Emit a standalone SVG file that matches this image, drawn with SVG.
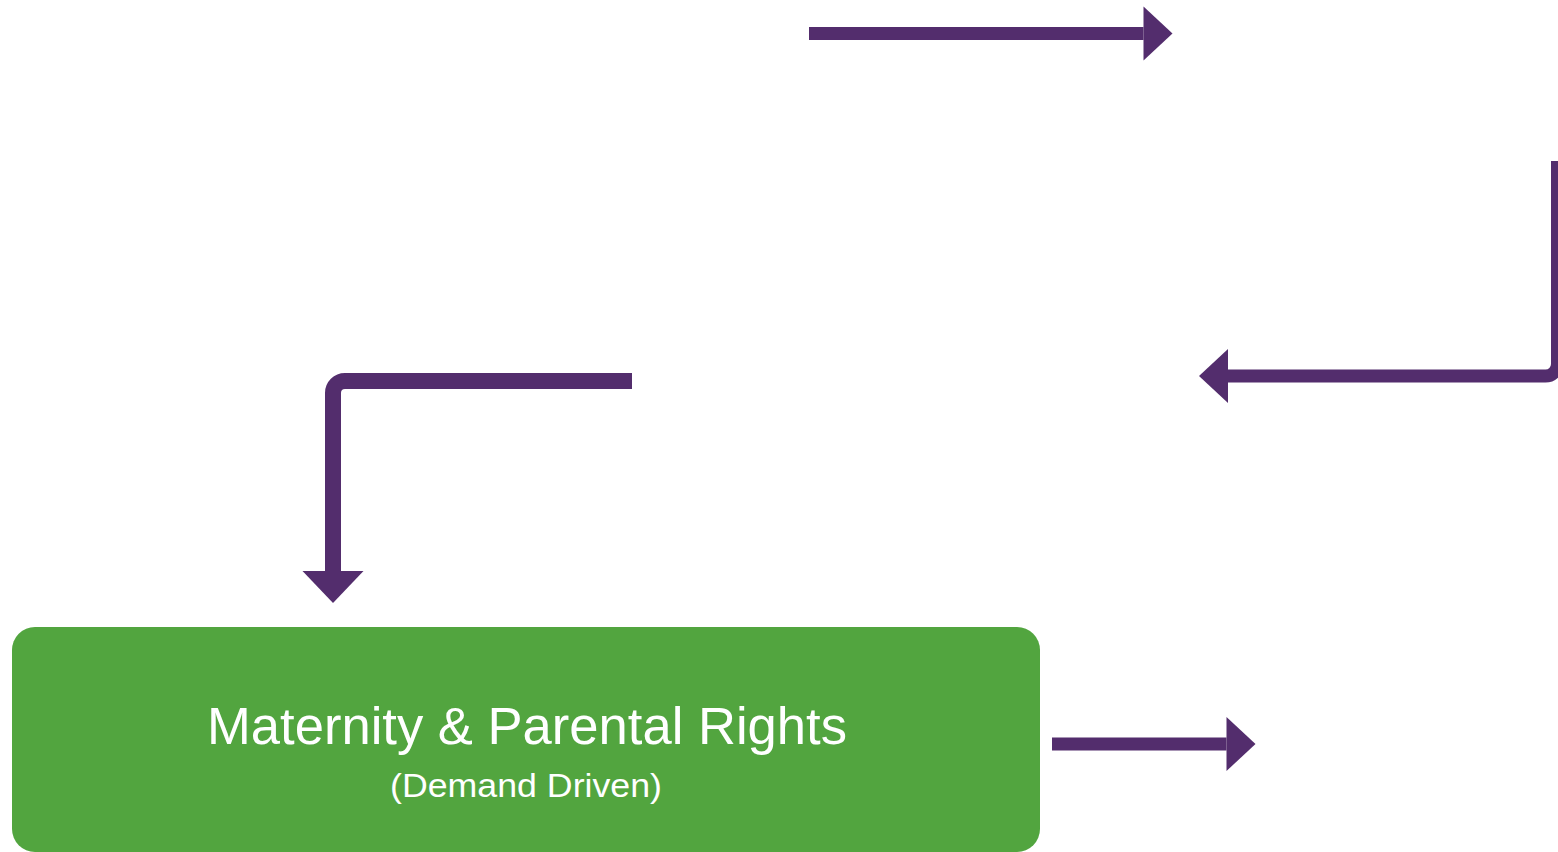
<svg xmlns="http://www.w3.org/2000/svg" width="1558" height="852" viewBox="0 0 1558 852">
  <style>
    .conn { fill: none; stroke: #532D6D; stroke-linecap: butt; stroke-linejoin: miter; }
    .w13 { stroke-width: 13; }
    .w16 { stroke-width: 16; }
    .node-box { fill: #52A53F; }
    .title { font-family: "Liberation Sans", Arial, sans-serif; fill: #FFFFFF; text-anchor: middle; }
  </style>
  <defs>
    <marker id="head13" markerUnits="userSpaceOnUse" markerWidth="29" markerHeight="54" refX="0" refY="27" orient="auto" overflow="visible">
      <path d="M0,0 L29,27 L0,54 Z" fill="#532D6D"/>
    </marker>
    <marker id="head16" markerUnits="userSpaceOnUse" markerWidth="32" markerHeight="61" refX="0" refY="30.5" orient="auto" overflow="visible">
      <path d="M0,0 L32,30.5 L0,61 Z" fill="#532D6D"/>
    </marker>
  </defs>

  <g id="connectors">
    <path id="arrow-top" class="conn w13" d="M809,33.5 H1143.5" marker-end="url(#head13)"/>
    <path id="arrow-right-loop" class="conn w13" d="M1557.5,161 V364 A12,12 0 0 1 1545.5,376 H1228" marker-end="url(#head13)"/>
    <path id="arrow-down" class="conn w16" d="M632,381 H345 A12,12 0 0 0 333,393 V571" marker-end="url(#head16)"/>
    <path id="arrow-bottom" class="conn w13" d="M1052,744 H1226.5" marker-end="url(#head13)"/>
  </g>

  <g id="node-maternity">
    <rect class="node-box" x="12" y="627" width="1028" height="225" rx="23" ry="23"/>
    <text class="title" x="527" y="744" font-size="51" textLength="640" lengthAdjust="spacingAndGlyphs">Maternity &amp; Parental Rights</text>
    <text class="title" x="526" y="797" font-size="34" textLength="272" lengthAdjust="spacingAndGlyphs">(Demand Driven)</text>
  </g>
</svg>
